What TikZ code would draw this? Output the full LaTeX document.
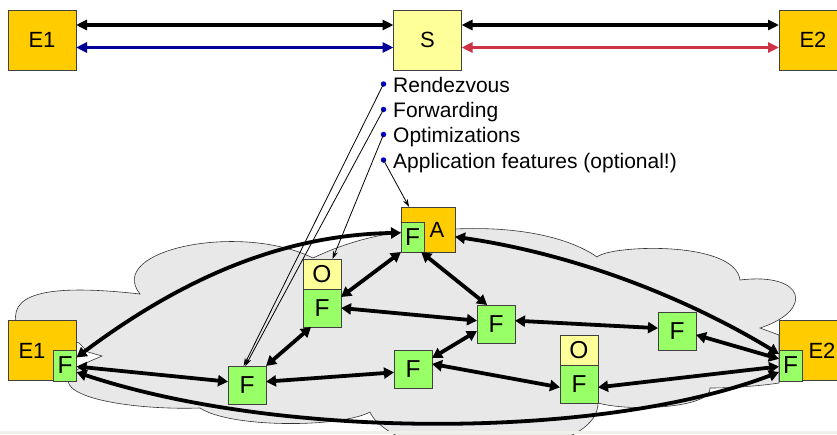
\documentclass[tikz,border=0pt]{standalone}
\usepackage{fontspec}
\setmainfont{Liberation Sans}
\usetikzlibrary{arrows.meta,calc}
\definecolor{gold}{HTML}{FFCC00}
\definecolor{lyellow}{HTML}{FFFF99}
\definecolor{lgreen}{HTML}{99FF66}
\definecolor{cloudgray}{HTML}{E8E8E8}
\definecolor{darkblue}{HTML}{000099}
\definecolor{crimson}{HTML}{CC3344}
\definecolor{bulletblue}{HTML}{0000CC}
\definecolor{stripgray}{HTML}{F0F0EA}
\begin{document}
\begin{tikzpicture}[x=1pt,y=-1pt,
 box/.style={draw=black!75, line width=0.7pt, inner sep=0pt, outer sep=0pt, font=\fontsize{24.5}{26}\selectfont},
 ebox/.style={box, fill=gold, minimum width=68pt, minimum height=60pt, font=\fontsize{22}{24}\selectfont},
 sbox/.style={box, fill=lyellow, minimum width=68pt, minimum height=60pt, font=\fontsize{22}{24}\selectfont},
 fbox/.style={box, fill=lgreen, minimum width=38pt, minimum height=38pt},
 obox/.style={box, fill=lyellow, minimum width=38pt, minimum height=30pt},
 innerf/.style={box, fill=lgreen, minimum width=23pt, minimum height=31pt},
 lbl/.style={inner sep=0pt, font=\fontsize{22}{24}\selectfont},
 bul/.style={circle, fill=bulletblue, inner sep=0pt, minimum size=5.5pt},
 btext/.style={anchor=base west, inner sep=0pt, font=\fontsize{21}{24}\selectfont},
 link/.style={line width=3.8pt, {Triangle[length=10pt,width=11pt]}-{Triangle[length=10pt,width=11pt]}},
 toplink/.style={line width=3.3pt, {Triangle[length=11pt,width=10pt]}-{Triangle[length=11pt,width=10pt]}},
 pointer/.style={line width=0.8pt, -{Stealth[length=8pt,width=5pt]}},
 cloudstyle/.style={fill=cloudgray, draw=black!80, line width=0.6pt},
]
\useasboundingbox (0,0) rectangle (837,434);
\fill[white] (0,0) rectangle (837,434);

% cloud
\path[cloudstyle] (16,322) .. controls (10,290) and (60,285) .. (140,294)
  .. controls (105,250) and (240,222) .. (313,258)
  .. controls (340,245) and (370,236) .. (401,232)
  -- (455,229)
  .. controls (520,226) and (570,238) .. (597,257)
  .. controls (610,245) and (735,240) .. (740,280)
  .. controls (805,272) and (815,310) .. (760,328)
  -- (779,335) -- (779,383)
  .. controls (760,386) and (730,388) .. (710,388)
  .. controls (712,408) and (630,412) .. (598,403)
  .. controls (598,425) and (570,440) .. (540,445)
  -- (420,445)
  .. controls (400,440) and (375,425) .. (370,412)
  .. controls (340,428) and (230,428) .. (200,408)
  .. controls (140,410) and (70,400) .. (68,381)
  -- (77,370) -- (88,362) -- (102,356) -- (88,352) -- (79,343)
  -- cycle;
\fill[stripgray] (0,430.5) rectangle (837,434);

% top row
\node[ebox] (E1t) at (42,40) {E1};
\node[sbox] (S) at (427.5,40) {S};
\node[ebox] (E2t) at (813,40) {E2};
\draw[toplink] ($(E1t.east)+(0,-15)$) -- ($(S.west)+(0,-15)$);
\draw[toplink, darkblue] ($(E1t.east)+(0,7.5)$) -- ($(S.west)+(0,7.5)$);
\draw[toplink] ($(S.east)+(0,-15)$) -- ($(E2t.west)+(0,-15)$);
\draw[toplink, crimson] ($(S.east)+(0,7.5)$) -- ($(E2t.west)+(0,7.5)$);

% bullets
\node[bul] (b1) at (383.5,84) {};
\node[bul] (b2) at (383.5,109.5) {};
\node[bul] (b3) at (383.5,134.5) {};
\node[bul] (b4) at (383.5,160) {};
\node[btext] (t1) at (393,92) {Rendezvous};
\node[btext] (t2) at (393,117.5) {Forwarding};
\node[btext] (t3) at (393,142.5) {Optimizations};
\node[btext] (t4) at (393,168) {Application features (optional!)};

% network nodes
\node[ebox] (E1b) at (42.5,350.5) {};
\node[lbl] (E1blbl) at (32,350.5) {E1};
\node[innerf] (E1F) at (65,365.5) {F};
\node[ebox] (E2b) at (813,350.5) {};
\node[lbl] (E2blbl) at (822,350.5) {E2};
\node[innerf] (E2F) at (790.5,365.5) {F};
\node[box, fill=gold, minimum width=54pt, minimum height=45pt] (A) at (428,229.5) {};
\node[lbl] (Albl) at (437,230) {A};
\node[innerf, minimum height=30pt] (AF) at (412.5,237) {F};
\node[obox] (O1) at (322,274) {O};
\node[fbox] (OF1) at (322,308) {F};
\node[obox] (O2) at (579,350.5) {O};
\node[fbox] (OF2) at (579,384) {F};
\node[fbox] (Fll) at (247,385) {F};
\node[fbox] (Fml) at (413,369) {F};
\node[fbox] (Fc) at (496,324) {F};
\node[fbox] (Fr) at (677,331.5) {F};

% pointers from bullets
\draw[pointer] (b1.center) -- (Fll.100);
\draw[pointer] (b2.center) -- (Fll.95);
\draw[pointer] (b3.center) -- (O1.55);
\draw[pointer] (b4.center) -- (A.130);

% thick links
\draw[link] (E1F.35) .. controls (180,280) and (280,235) .. (AF.160);
\draw[link] (A.-15) .. controls (580,255) and (690,300) .. (E2F.135);
\draw[link] (E1F.-30) .. controls (280,440) and (600,440) .. (E2F.210);
\draw[link] (E1F.-5) -- (Fll.170);
\draw[link] (Fll.45) -- (OF1.240);
\draw[link] (Fll.10) -- (Fml.190);
\draw[link] (OF1.30) -- (AF.south west);
\draw[link] (OF1.east) -- (Fc.170);
\draw[link] (AF.-60) -- (Fc.115);
\draw[link] (Fml.30) -- (Fc.200);
\draw[link] (Fc.10) -- (Fr.170);
\draw[link] (Fml.15) -- (OF2.190);
\draw[link] (OF2.-10) -- (E2F.185);
\draw[link] (Fr.-10) -- (E2F.150);
\end{tikzpicture}
\end{document}
